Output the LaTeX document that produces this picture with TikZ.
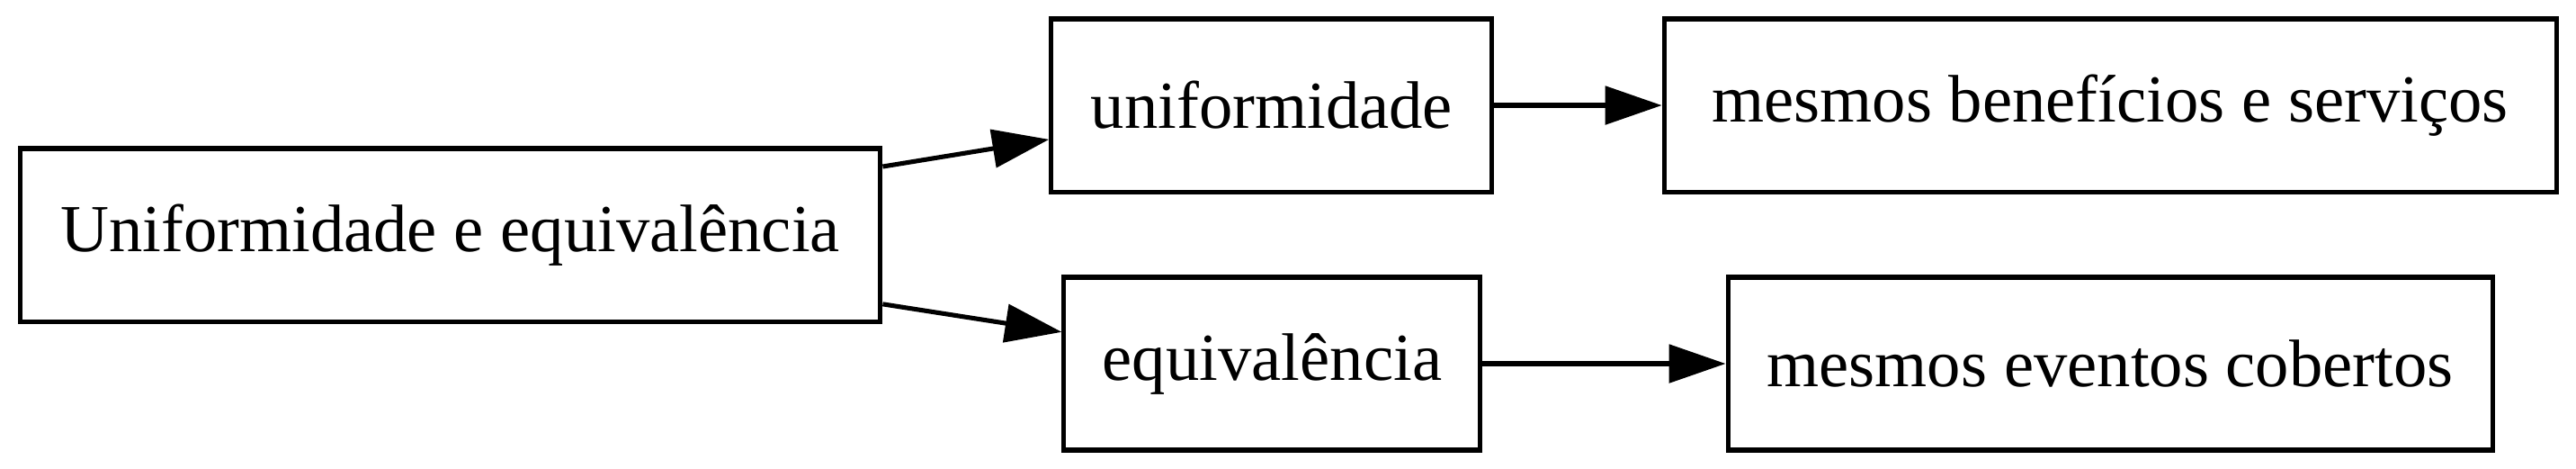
\documentclass[tikz,border=0pt]{standalone}
\usepackage{fontspec}
\setmainfont{Liberation Serif}
\usetikzlibrary{arrows.meta}
\begin{document}
\begin{tikzpicture}[x=1pt,y=1pt,
  box/.style={draw, rectangle, line width=0.95pt, minimum height=36pt, inner sep=0pt,
    font=\fontsize{14pt}{16.8pt}\selectfont},
  conn/.style={line width=0.95pt, -{Triangle[length=11.8pt,width=7.9pt]}}]
\useasboundingbox (0,0) rectangle (537,97.5);
\node[box, minimum width=179.4pt] (A) at (93.84,48.56) {Uniformidade e equivalência};
\node[box, minimum width=91.9pt] (B) at (265.1,75.56) {uniformidade};
\node[box, minimum width=186pt] (C) at (439.9,75.56) {mesmos benefícios e serviços};
\node[box, minimum width=86.8pt] (D) at (265.2,21.75) {equivalência};
\node[box, minimum width=159.4pt] (E) at (439.9,21.75) {mesmos eventos cobertos};
\draw[conn] ([yshift=14.25pt]A.east) -- ([yshift=-7.1pt]B.west);
\draw[conn] ([yshift=-14.4pt]A.east) -- ([yshift=6.6pt]D.west);
\draw[conn] (B.east) -- (C.west);
\draw[conn] (D.east) -- (E.west);
\end{tikzpicture}
\end{document}
